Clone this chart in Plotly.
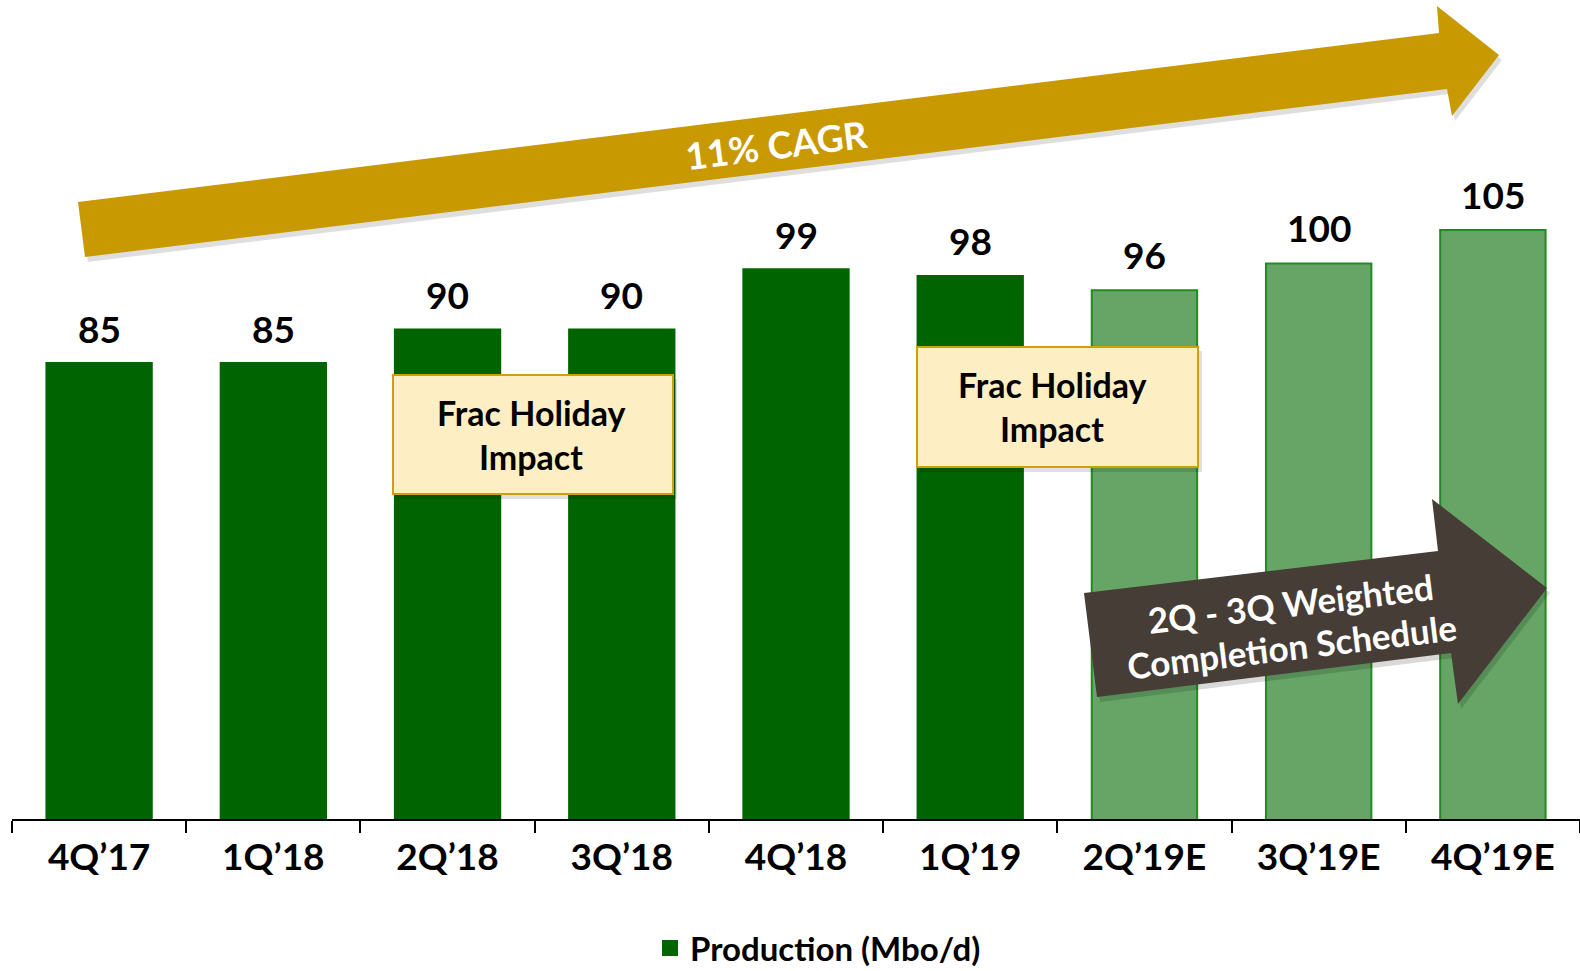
import plotly.graph_objects as go

# ---- data ----
quarters = ["4Q\u201917", "1Q\u201918", "2Q\u201918", "3Q\u201918", "4Q\u201918",
            "1Q\u201919", "2Q\u201919E", "3Q\u201919E", "4Q\u201919E"]
production = [85, 85, 90, 90, 99, 98, 96, 100, 105]
is_estimate = [False, False, False, False, False, False, True, True, True]
series_name = "Production (Mbo/d)"
cagr_label = "11% CAGR"
frac_label_lines = ["Frac Holiday", "Impact"]
schedule_label_lines = ["2Q - 3Q Weighted", "Completion Schedule"]

# ---- style / layout ----
W, H = 1580, 971
PL, PT, PW, PH = 12, 0, 1568, 819
FONT = "Lato, 'Open Sans', sans-serif"
DARK_GREEN = "#006400"
LIGHT_GREEN = "#66A566"
LIGHT_EDGE = "#238A23"
GOLD = "#C89900"
BROWN = "#463D36"
BOX_FILL = "#FDEFC3"
BOX_EDGE = "#CF9F0E"


def px(x):
    return (x - PL) / PW


def py(y):
    return 1 - (y - PT) / PH


def path(points):
    return "M " + " L ".join(f"{px(x):.5f},{py(y):.5f}" for x, y in points) + " Z"


act_x = [q for q, e in zip(quarters, is_estimate) if not e]
act_y = [v for v, e in zip(production, is_estimate) if not e]
est_x = [q for q, e in zip(quarters, is_estimate) if e]
est_y = [v for v, e in zip(production, is_estimate) if e]

fig = go.Figure()
fig.add_trace(go.Bar(
    x=act_x, y=act_y, name=f"<b>{series_name}</b>", width=0.593,
    marker=dict(color=DARK_GREEN, line=dict(color=DARK_GREEN, width=4)),
    showlegend=True,
))
fig.add_trace(go.Bar(
    x=est_x, y=est_y, name=series_name + " (E)", width=0.605,
    marker=dict(color=LIGHT_GREEN, line=dict(color=LIGHT_EDGE, width=2)),
    showlegend=False,
))

# value labels
for q, v in zip(quarters, production):
    fig.add_annotation(x=q, y=v, text=f"<b>{v}</b>", showarrow=False,
                       xref="x", yref="y", yanchor="middle", yshift=36,
                       font=dict(family=FONT, size=37, color="black"))

shapes = []
# gold CAGR arrow: shadow + body
gold_pts = [(78, 202), (1439, 33), (1437, 6), (1499, 55), (1452, 116), (1447, 89), (85, 257)]
shapes.append(dict(type="path", xref="paper", yref="paper", layer="above",
                   path=path([(x + 3, y + 5) for x, y in gold_pts]),
                   fillcolor="rgba(0,0,0,0.13)", line=dict(width=0)))
shapes.append(dict(type="path", xref="paper", yref="paper", layer="above",
                   path=path(gold_pts), fillcolor=GOLD, line=dict(width=0)))

# Frac Holiday boxes
boxes = [(393, 375, 673, 494), (917, 347, 1198, 467)]
for x0, y0, x1, y1 in boxes:
    shapes.append(dict(type="rect", xref="paper", yref="paper", layer="above",
                       x0=px(x0 + 3), x1=px(x1 + 4), y0=py(y1 + 5), y1=py(y0 + 4),
                       fillcolor="rgba(0,0,0,0.12)", line=dict(width=0)))
    shapes.append(dict(type="rect", xref="paper", yref="paper", layer="above",
                       x0=px(x0), x1=px(x1), y0=py(y1), y1=py(y0),
                       fillcolor=BOX_FILL, line=dict(color=BOX_EDGE, width=2)))

# dark completion-schedule arrow
dark_pts = [(1084, 593), (1438, 551), (1432, 499), (1547, 588), (1458, 704), (1451, 653), (1097, 697)]
shapes.append(dict(type="path", xref="paper", yref="paper", layer="above",
                   path=path([(x + 3, y + 5) for x, y in dark_pts]),
                   fillcolor="rgba(0,0,0,0.15)", line=dict(width=0)))
shapes.append(dict(type="path", xref="paper", yref="paper", layer="above",
                   path=path(dark_pts), fillcolor=BROWN, line=dict(width=0)))

fig.update_layout(shapes=shapes)

# CAGR text
fig.add_annotation(x=px(776), y=py(144), xref="paper", yref="paper", showarrow=False,
                   text=f"<b>{cagr_label}</b>", textangle=-7.1,
                   font=dict(family=FONT, size=37, color="white"),
                   xanchor="center", yanchor="middle")

# Frac Holiday text
frac_line_pos = [[(531, 412), (531, 456)], [(1052, 384), (1052, 428)]]
for pos in frac_line_pos:
    for (x, y), t in zip(pos, frac_label_lines):
        fig.add_annotation(x=px(x), y=py(y), xref="paper", yref="paper", showarrow=False,
                           text=f"<b>{t}</b>", font=dict(family=FONT, size=34, color="black"),
                           xanchor="center", yanchor="middle")

# schedule text
sched_pos = [(1290, 603), (1292, 646)]
for (x, y), t in zip(sched_pos, schedule_label_lines):
    fig.add_annotation(x=px(x), y=py(y), xref="paper", yref="paper", showarrow=False,
                       text=f"<b>{t}</b>", textangle=-6.9,
                       font=dict(family=FONT, size=35, color="white"),
                       xanchor="center", yanchor="middle")

y_min = 17.1
y_max = y_min + PH / 6.7

fig.update_layout(
    width=W, height=H,
    margin=dict(l=PL, r=W - PL - PW, t=PT, b=H - PT - PH, pad=0, autoexpand=False),
    paper_bgcolor="white", plot_bgcolor="white",
    barmode="overlay",
    font=dict(family=FONT, color="black"),
    xaxis=dict(
        categoryorder="array", categoryarray=quarters, range=[-0.5, 8.5],
        showline=True, linecolor="black", linewidth=2,
        ticks="outside", tickson="boundaries", ticklen=12, tickwidth=1.5, tickcolor="black",
        tickfont=dict(family=FONT, size=37, color="black"),
        ticklabelstandoff=5, automargin=False,
        showgrid=False, zeroline=False,
        tickvals=quarters, ticktext=[f"<b>{q}</b>" for q in quarters],
    ),
    yaxis=dict(range=[y_min, y_max], visible=False, showgrid=False, zeroline=False),
    legend=dict(orientation="h", x=px(818), xanchor="center", y=py(948), yanchor="middle",
                font=dict(family=FONT, size=33, color="black"),
                itemsizing="trace", bgcolor="rgba(0,0,0,0)"),
    showlegend=True,
)

fig.write_html("out.html", config={"displayModeBar": False},
               post_script="document.body.style.margin='0';")
